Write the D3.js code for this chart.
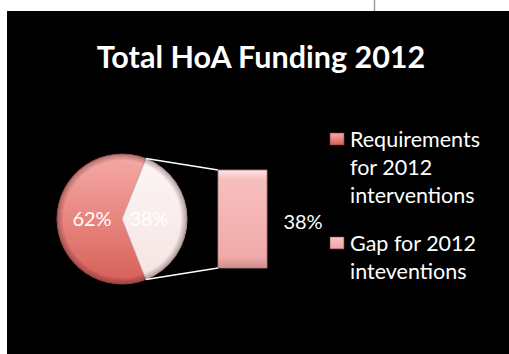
<!DOCTYPE html>
<html>
<head>
<meta charset="utf-8">
<script src="https://cdn.jsdelivr.net/npm/d3@7"></script>
<style>
  body { margin: 0; background: #fff; }
  text { font-family: Lato, "Open Sans", sans-serif; }
</style>
</head>
<body>
<div id="chart"></div>
<script>
const width = 509, height = 354

// data
const categories = ["Requirements for 2012 interventions", "Gap for 2012 inteventions"]
const legendLines = [["Requirements", "for 2012", "interventions"], ["Gap for 2012", "inteventions"]]
const values = [62, 38]
const title = "Total HoA Funding 2012"

const svg = d3.select("#chart").append("svg")
  .attr("width", width)
  .attr("height", height)

const cx = 122, cy = 219, r = 65

const defs = svg.append("defs")

const g1 = defs.append("linearGradient").attr("id", "red").attr("x1", 0).attr("y1", 0).attr("x2", 0).attr("y2", 1)
g1.append("stop").attr("offset", "0%").attr("stop-color", "#f4aaa6")
g1.append("stop").attr("offset", "50%").attr("stop-color", "#e8857f")
g1.append("stop").attr("offset", "100%").attr("stop-color", "#d65f58")

const g2 = defs.append("linearGradient").attr("id", "white").attr("x1", 0).attr("y1", 0).attr("x2", 0).attr("y2", 1)
g2.append("stop").attr("offset", "0%").attr("stop-color", "#fdf5f5")
g2.append("stop").attr("offset", "100%").attr("stop-color", "#f6e4e4")

const g3 = defs.append("linearGradient").attr("id", "pink").attr("x1", 0).attr("y1", 0).attr("x2", 0).attr("y2", 1)
g3.append("stop").attr("offset", "0%").attr("stop-color", "#fde6e6")
g3.append("stop").attr("offset", "9%").attr("stop-color", "#f7bfbf")
g3.append("stop").attr("offset", "88%").attr("stop-color", "#f0aaa9")
g3.append("stop").attr("offset", "100%").attr("stop-color", "#cf908f")

// darker rim round the pie (coords of the pie group)
const rim = defs.append("radialGradient").attr("id", "rim").attr("gradientUnits", "userSpaceOnUse")
  .attr("cx", 0).attr("cy", 0).attr("r", r)
rim.append("stop").attr("offset", "0%").attr("stop-color", "#000").attr("stop-opacity", 0)
rim.append("stop").attr("offset", "90%").attr("stop-color", "#000").attr("stop-opacity", 0)
rim.append("stop").attr("offset", "100%").attr("stop-color", "#401010").attr("stop-opacity", 0.35)

// background panel
svg.append("rect").attr("x", 7).attr("y", 11).attr("width", width - 7).attr("height", height - 11).attr("fill", "#000")
svg.append("line").attr("x1", 374.5).attr("x2", 374.5).attr("y1", 0).attr("y2", 11)
  .attr("stroke", "#a0a0a0").attr("stroke-width", 1.5)

svg.append("text")
  .attr("x", 261).attr("y", 68)
  .attr("text-anchor", "middle")
  .attr("fill", "#fff")
  .attr("font-weight", "bold")
  .attr("font-size", 30.5)
  .text(title)

// pie
const total = d3.sum(values)
const gapShare = values[1] / total
const pie = d3.pie().sort(null)
  .startAngle(Math.PI / 2 + Math.PI * gapShare)
  .endAngle(Math.PI / 2 + Math.PI * gapShare + 2 * Math.PI)
const arcs = pie(values)
const arc = d3.arc().innerRadius(0).outerRadius(r)
const fills = ["url(#red)", "url(#white)"]

const pg = svg.append("g").attr("transform", `translate(${cx},${cy})`)
pg.selectAll("path.slice")
  .data(arcs)
  .enter().append("path")
    .attr("class", "slice")
    .attr("d", arc)
    .attr("fill", (d, i) => fills[i])
    .attr("stroke", (d, i) => i === 0 ? "#b85a55" : "#cbb9b9")
    .attr("stroke-width", 0.8)

pg.selectAll("path.rim")
  .data(arcs)
  .enter().append("path")
    .attr("class", "rim")
    .attr("d", arc)
    .attr("fill", "url(#rim)")

pg.selectAll("text")
  .data(arcs)
  .enter().append("text")
    .attr("x", (d, i) => i === 0 ? -30 : 27)
    .attr("y", 0)
    .attr("dy", "0.35em")
    .attr("text-anchor", "middle")
    .attr("fill", "#fff")
    .attr("font-size", 20)
    .text(d => Math.round(d.value / total * 100) + "%")

// bar of pie
const y = d3.scaleLinear().domain([0, values[1]]).range([268, 170])
const x = d3.scaleBand().domain([categories[1]]).range([218, 267])

// connector lines from slice edge to bar corners
const gapArc = arcs[1]
const pt = a => [cx + r * Math.sin(a), cy - r * Math.cos(a)]
const pTop = pt(gapArc.startAngle), pBot = pt(gapArc.endAngle)
svg.append("line").attr("x1", pTop[0]).attr("y1", pTop[1]).attr("x2", x(categories[1])).attr("y2", y(values[1]))
  .attr("stroke", "#fff").attr("stroke-width", 1.5)
svg.append("line").attr("x1", pBot[0]).attr("y1", pBot[1]).attr("x2", x(categories[1])).attr("y2", y(0))
  .attr("stroke", "#fff").attr("stroke-width", 1.5)

svg.append("rect")
  .attr("x", x(categories[1]))
  .attr("y", y(values[1]))
  .attr("width", x.bandwidth())
  .attr("height", y(0) - y(values[1]))
  .attr("fill", "url(#pink)")
  .attr("stroke", "#b07a7a").attr("stroke-width", 0.8)

svg.append("text")
  .attr("x", 303).attr("y", 222)
  .attr("dy", "0.35em")
  .attr("text-anchor", "middle")
  .attr("fill", "#fff")
  .attr("font-size", 20)
  .text(values[1] + "%")

// legend
const legendFills = ["url(#red)", "url(#pink)"]
const legendY = [133, 237]
const legend = svg.append("g")
legendLines.forEach((lines, i) => {
  legend.append("rect")
    .attr("x", 330).attr("y", legendY[i])
    .attr("width", 14).attr("height", 12)
    .attr("fill", legendFills[i])
    .attr("stroke", "#7a3a3a").attr("stroke-width", 0.6)
  lines.forEach((t, j) => {
    legend.append("text")
      .attr("x", 350).attr("y", legendY[i] + 14 + j * 28)
      .attr("fill", "#fff")
      .attr("font-size", 21.5)
      .text(t)
  })
})
</script>
</body>
</html>
